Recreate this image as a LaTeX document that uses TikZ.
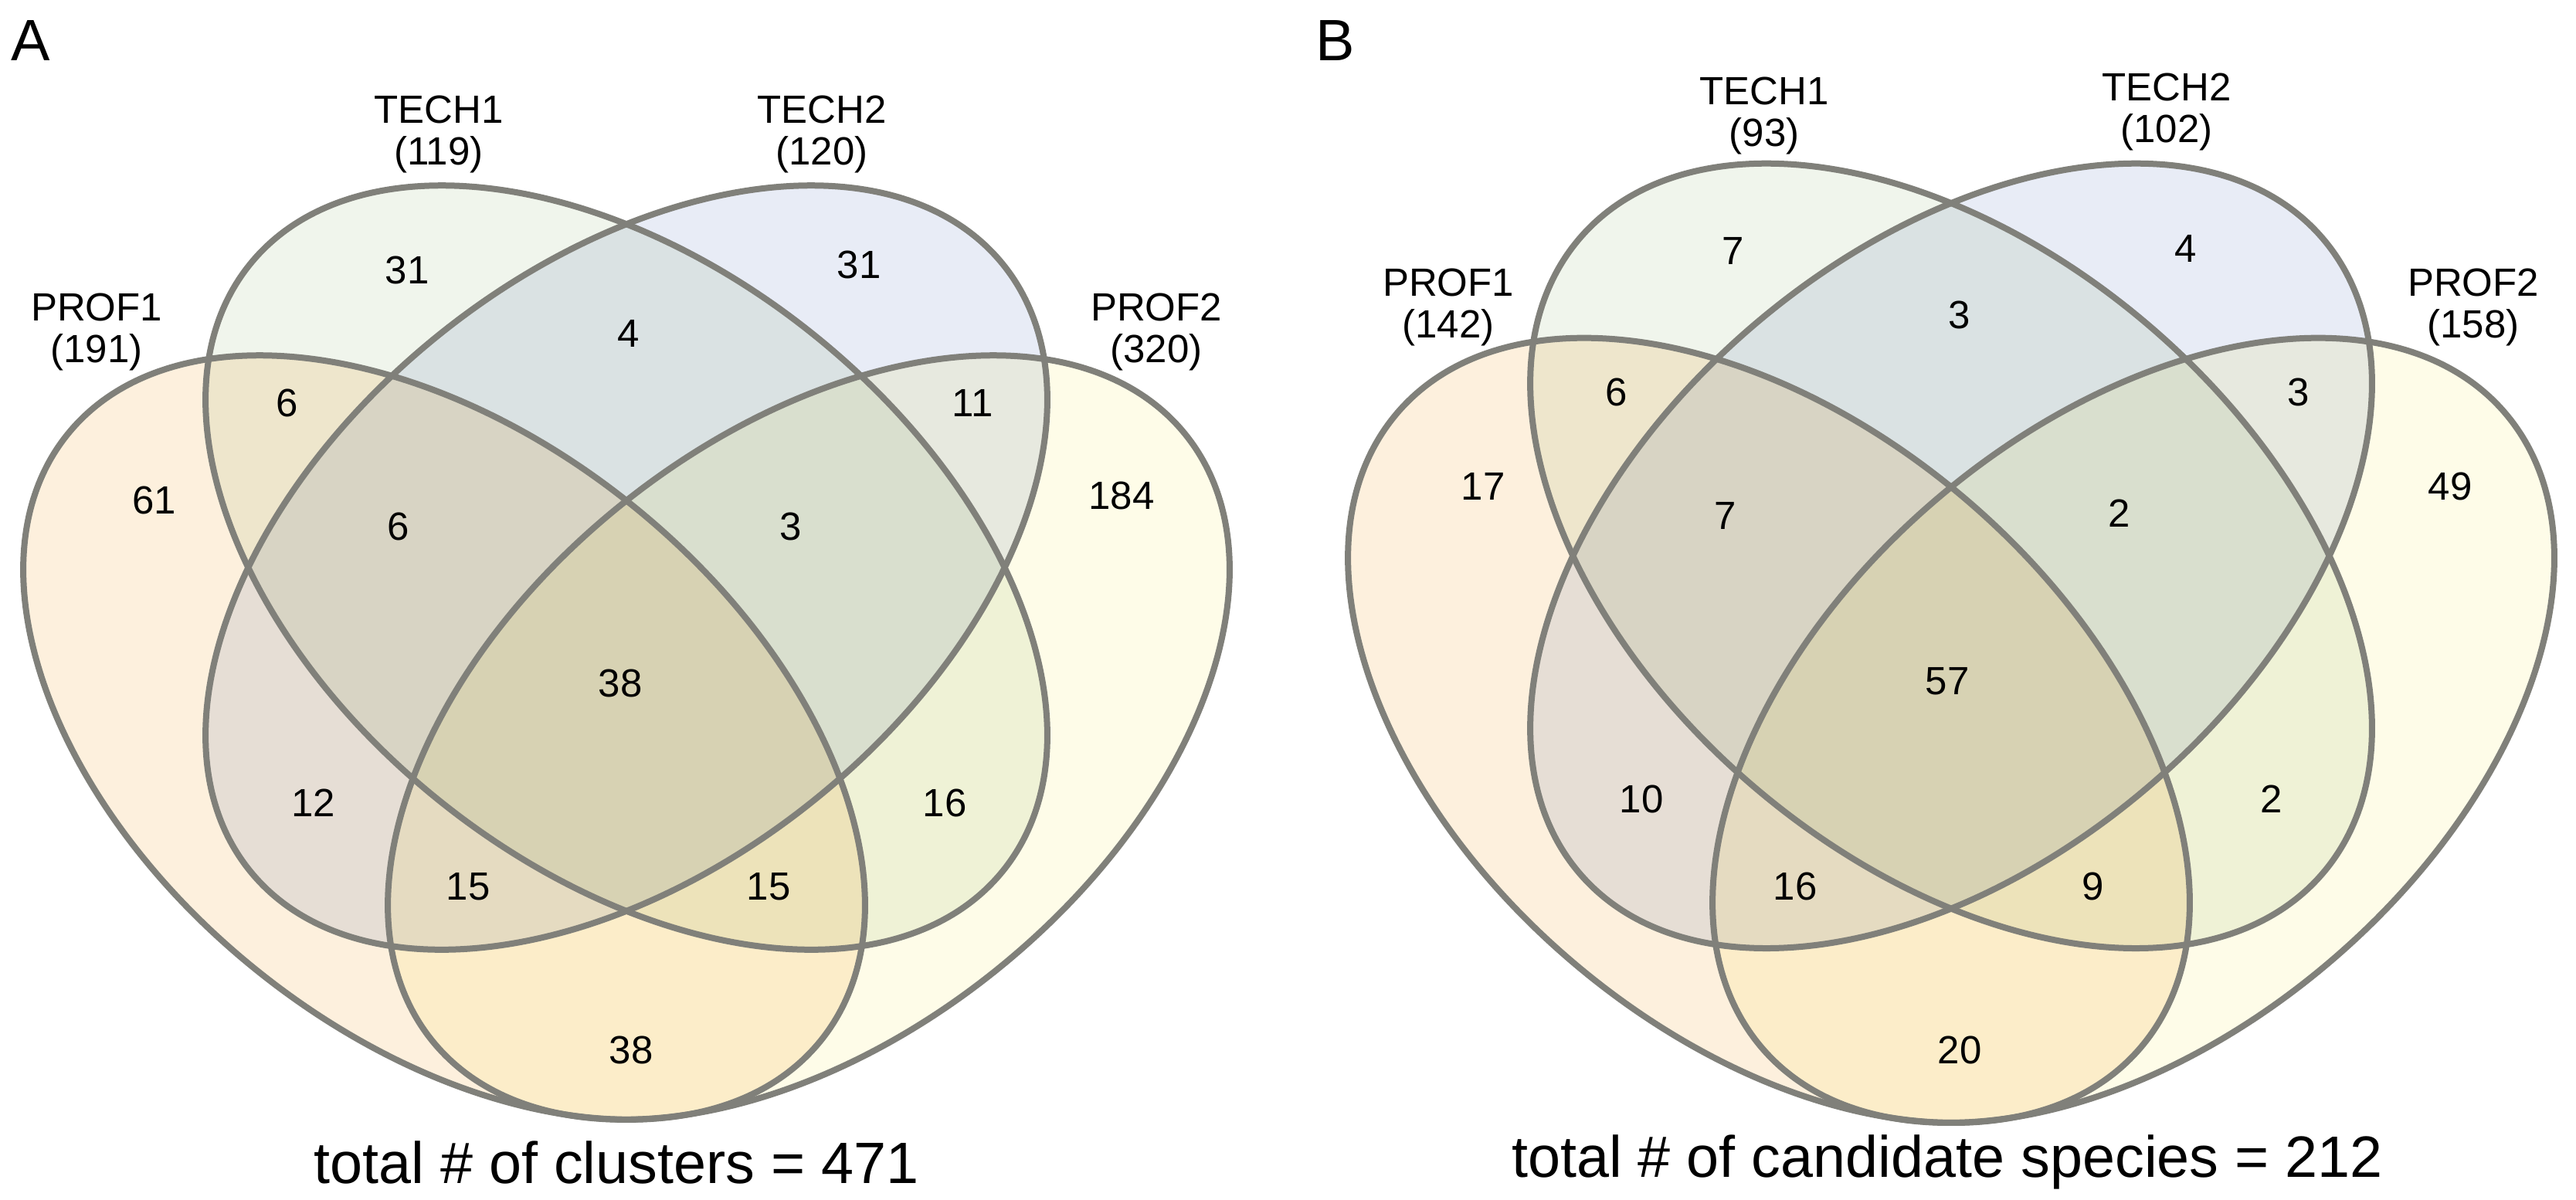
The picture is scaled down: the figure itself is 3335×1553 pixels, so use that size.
\documentclass[tikz,border=0pt]{standalone}
\usepackage{fontspec}
\setmainfont{Liberation Sans}
\definecolor{profonecol}{RGB}{253,240,221}
\definecolor{techonecol}{RGB}{240,245,236}
\definecolor{techtwocol}{RGB}{232,236,246}
\definecolor{proftwocol}{RGB}{254,252,232}
\definecolor{linegray}{RGB}{128,128,122}

\begin{document}
\begin{tikzpicture}[x=0.1mm, y=-0.1mm,
  setfill/.style={blend mode=multiply},
  outline/.style={draw=linegray, line width=0.8mm},
  num/.style={font=\fontsize{14.5pt}{15pt}\selectfont},
  setlabel/.style={align=center, font=\fontsize{14.5pt}{15.5pt}\selectfont},
  total/.style={font=\fontsize{21.5pt}{24pt}\selectfont},
  panel/.style={font=\fontsize{21.5pt}{24pt}\selectfont}]
\useasboundingbox (0,0) rectangle (3335,1553);

% panel A
\begin{scope}
  \begin{scope}[setfill]
    \fill[profonecol, rotate around={-38.8:(575,955)}] (575,955) ellipse [x radius=626, y radius=387];
    \fill[proftwocol, rotate around={38.8:(1047,955)}] (1047,955) ellipse [x radius=626, y radius=387];
    \fill[techonecol, rotate around={-38.8:(811,735)}] (811,735) ellipse [x radius=626, y radius=387];
    \fill[techtwocol, rotate around={38.8:(811,735)}] (811,735) ellipse [x radius=626, y radius=387];
  \end{scope}
  \draw[outline, rotate around={-38.8:(575,955)}] (575,955) ellipse [x radius=626, y radius=387];
  \draw[outline, rotate around={38.8:(1047,955)}] (1047,955) ellipse [x radius=626, y radius=387];
  \draw[outline, rotate around={-38.8:(811,735)}] (811,735) ellipse [x radius=626, y radius=387];
  \draw[outline, rotate around={38.8:(811,735)}] (811,735) ellipse [x radius=626, y radius=387];
\end{scope}

% panel B
\begin{scope}[shift={(1715,-35)}, yscale=1.027]
  \begin{scope}[setfill]
    \fill[profonecol, rotate around={-38.8:(575,955)}] (575,955) ellipse [x radius=626, y radius=387];
    \fill[proftwocol, rotate around={38.8:(1047,955)}] (1047,955) ellipse [x radius=626, y radius=387];
    \fill[techonecol, rotate around={-38.8:(811,735)}] (811,735) ellipse [x radius=626, y radius=387];
    \fill[techtwocol, rotate around={38.8:(811,735)}] (811,735) ellipse [x radius=626, y radius=387];
  \end{scope}
  \draw[outline, rotate around={-38.8:(575,955)}] (575,955) ellipse [x radius=626, y radius=387];
  \draw[outline, rotate around={38.8:(1047,955)}] (1047,955) ellipse [x radius=626, y radius=387];
  \draw[outline, rotate around={-38.8:(811,735)}] (811,735) ellipse [x radius=626, y radius=387];
  \draw[outline, rotate around={38.8:(811,735)}] (811,735) ellipse [x radius=626, y radius=387];
\end{scope}

\draw
  node at (40,52)[panel](panelA){A}
  node at (568,174)[setlabel](techoneA){TECH1\\(119)}
  node at (1064,174)[setlabel](techtwoA){TECH2\\(120)}
  node at (125,430)[setlabel](profoneA){PROF1\\(191)}
  node at (1497,430)[setlabel](proftwoA){PROF2\\(320)}
  node at (527,350)[num](aT1){31}
  node at (1112,343)[num](aT2){31}
  node at (814,432)[num](aT1T2){4}
  node at (372,522)[num](aP1T1){6}
  node at (1259,522)[num](aT2P2){11}
  node at (200,648)[num](aP1){61}
  node at (1452,642)[num](aP2){184}
  node at (516,682)[num](aP1T1T2){6}
  node at (1024,682)[num](aT1T2P2){3}
  node at (803,885)[num](aAll){38}
  node at (406,1040)[num](aP1T2){12}
  node at (1223,1040)[num](aT1P2){16}
  node at (606,1148)[num](aP1T2P2){15}
  node at (995,1148)[num](aP1T1P2){15}
  node at (817,1360)[num](aP1P2){38}
  node at (798,1505)[total](totalA){total \# of clusters = 471};

\draw
  node at (1729,52)[panel](panelB){B}
  node at (2284,150)[setlabel](techoneB){TECH1\\(93)}
  node at (2805,145)[setlabel](techtwoB){TECH2\\(102)}
  node at (1875,398)[setlabel](profoneB){PROF1\\(142)}
  node at (3202,398)[setlabel](proftwoB){PROF2\\(158)}
  node at (2244,325)[num](bT1){7}
  node at (2830,322)[num](bT2){4}
  node at (2537,408)[num](bT1T2){3}
  node at (2093,508)[num](bP1T1){6}
  node at (2976,508)[num](bT2P2){3}
  node at (1920,630)[num](bP1){17}
  node at (3172,630)[num](bP2){49}
  node at (2234,668)[num](bP1T1T2){7}
  node at (2744,665)[num](bT1T2P2){2}
  node at (2521,882)[num](bAll){57}
  node at (2125,1035)[num](bP1T2){10}
  node at (2941,1035)[num](bT1P2){2}
  node at (2324,1148)[num](bP1T2P2){16}
  node at (2710,1148)[num](bP1T1P2){9}
  node at (2537,1360)[num](bP1P2){20}
  node at (2521,1505)[total](totalB){total \# of candidate species = 212};
\end{tikzpicture}
\end{document}
